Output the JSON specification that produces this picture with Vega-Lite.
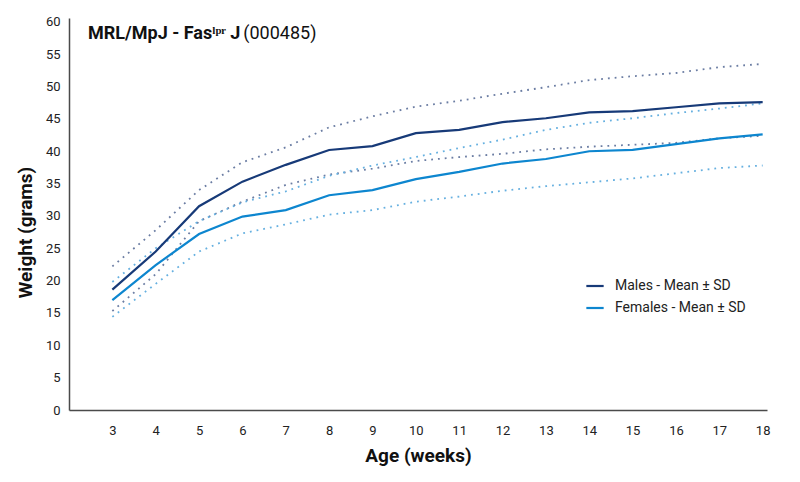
{
  "$schema": "https://vega.github.io/schema/vega-lite/v6.json",
  "width": 698,
  "height": 392,
  "autosize": {"type": "none"},
  "padding": {"left": 69, "top": 18, "right": 33, "bottom": 72},
  "config": {
    "view": {"stroke": null},
    "font": "Roboto",
    "axis": {
      "grid": false,
      "ticks": false,
      "labelOverlap": false,
      "domainColor": "#4a4a4a",
      "domainWidth": 1.5,
      "labelColor": "#222222",
      "labelFontSize": 13,
      "titleColor": "#111111",
      "titleFontSize": 19,
      "titleFontWeight": "bold"
    },
    "axisX": {"labelPadding": 14, "titlePadding": 9},
    "axisY": {"labelPadding": 9, "titlePadding": 10, "titleY": 214}
  },
  "data": {
    "values": [
      {"week": 3, "sex": "Males", "mean": 18.6, "upper": 22.2, "lower": 15.3},
      {"week": 4, "sex": "Males", "mean": 24.5, "upper": 27.8, "lower": 21.0},
      {"week": 5, "sex": "Males", "mean": 31.5, "upper": 34.0, "lower": 29.2},
      {"week": 6, "sex": "Males", "mean": 35.3, "upper": 38.3, "lower": 32.2},
      {"week": 7, "sex": "Males", "mean": 37.9, "upper": 40.6, "lower": 34.8},
      {"week": 8, "sex": "Males", "mean": 40.2, "upper": 43.7, "lower": 36.4},
      {"week": 9, "sex": "Males", "mean": 40.8, "upper": 45.4, "lower": 37.3},
      {"week": 10, "sex": "Males", "mean": 42.8, "upper": 46.9, "lower": 38.5},
      {"week": 11, "sex": "Males", "mean": 43.3, "upper": 47.8, "lower": 39.1},
      {"week": 12, "sex": "Males", "mean": 44.5, "upper": 48.9, "lower": 39.6},
      {"week": 13, "sex": "Males", "mean": 45.1, "upper": 49.9, "lower": 40.3},
      {"week": 14, "sex": "Males", "mean": 46.0, "upper": 51.0, "lower": 40.7},
      {"week": 15, "sex": "Males", "mean": 46.2, "upper": 51.6, "lower": 41.0},
      {"week": 16, "sex": "Males", "mean": 46.8, "upper": 52.1, "lower": 41.3},
      {"week": 17, "sex": "Males", "mean": 47.4, "upper": 53.0, "lower": 42.0},
      {"week": 18, "sex": "Males", "mean": 47.6, "upper": 53.5, "lower": 42.4},
      {"week": 3, "sex": "Females", "mean": 17.0, "upper": 19.8, "lower": 14.4},
      {"week": 4, "sex": "Females", "mean": 22.4, "upper": 25.0, "lower": 19.5},
      {"week": 5, "sex": "Females", "mean": 27.2, "upper": 29.2, "lower": 24.5},
      {"week": 6, "sex": "Females", "mean": 29.9, "upper": 32.1, "lower": 27.3},
      {"week": 7, "sex": "Females", "mean": 30.9, "upper": 33.8, "lower": 28.7},
      {"week": 8, "sex": "Females", "mean": 33.2, "upper": 36.2, "lower": 30.2},
      {"week": 9, "sex": "Females", "mean": 34.0, "upper": 37.8, "lower": 30.9},
      {"week": 10, "sex": "Females", "mean": 35.7, "upper": 39.1, "lower": 32.2},
      {"week": 11, "sex": "Females", "mean": 36.8, "upper": 40.5, "lower": 33.0},
      {"week": 12, "sex": "Females", "mean": 38.1, "upper": 41.8, "lower": 33.9},
      {"week": 13, "sex": "Females", "mean": 38.8, "upper": 43.3, "lower": 34.6},
      {"week": 14, "sex": "Females", "mean": 40.0, "upper": 44.4, "lower": 35.2},
      {"week": 15, "sex": "Females", "mean": 40.2, "upper": 45.1, "lower": 35.8},
      {"week": 16, "sex": "Females", "mean": 41.1, "upper": 45.9, "lower": 36.6},
      {"week": 17, "sex": "Females", "mean": 42.0, "upper": 46.6, "lower": 37.4},
      {"week": 18, "sex": "Females", "mean": 42.6, "upper": 47.4, "lower": 37.8}
    ]
  },
  "layer": [
    {
      "transform": [{"fold": ["upper", "lower"], "as": ["bound", "value"]}],
      "mark": {"type": "line", "strokeWidth": 1.8, "strokeDash": [1.8, 5], "strokeCap": "butt"},
      "encoding": {
        "x": {
          "field": "week", "type": "quantitative",
          "scale": {"domain": [2, 18.1], "nice": false, "zero": false},
          "axis": {"title": "Age (weeks)", "values": [3, 4, 5, 6, 7, 8, 9, 10, 11, 12, 13, 14, 15, 16, 17, 18]}
        },
        "y": {
          "field": "value", "type": "quantitative",
          "scale": {"domain": [0, 60.6], "nice": false},
          "axis": {"title": "Weight (grams)", "values": [0, 5, 10, 15, 20, 25, 30, 35, 40, 45, 50, 55, 60]}
        },
        "detail": {"field": "bound"},
        "color": {
          "field": "sex", "type": "nominal", "legend": null,
          "scale": {"domain": ["Males", "Females"], "range": ["#6b7da3", "#66b0e0"]}
        }
      }
    },
    {
      "mark": {"type": "line", "strokeWidth": 2.2},
      "encoding": {
        "x": {"field": "week", "type": "quantitative", "axis": {"title": "Age (weeks)", "values": [3, 4, 5, 6, 7, 8, 9, 10, 11, 12, 13, 14, 15, 16, 17, 18]}},
        "y": {"field": "mean", "type": "quantitative", "axis": {"title": "Weight (grams)", "values": [0, 5, 10, 15, 20, 25, 30, 35, 40, 45, 50, 55, 60]}},
        "color": {
          "field": "sex", "type": "nominal",
          "scale": {"domain": ["Males", "Females"], "range": ["#173a78", "#0d86cf"]},
          "legend": {
            "title": null,
            "orient": "none",
            "legendX": 516,
            "legendY": 258,
            "symbolType": "stroke",
            "symbolSize": 300,
            "symbolStrokeWidth": 2.2,
            "labelFontSize": 14,
            "labelColor": "#222222",
            "labelOffset": 10,
            "rowPadding": 5,
            "labelExpr": "datum.label + ' - Mean ± SD'"
          }
        }
      }
    },
    {
      "data": {"values": [{}]},
      "mark": {"type": "text", "text": "MRL/MpJ - Fasˡᵖʳ J", "fontWeight": "bold", "fontSize": 18, "align": "left", "baseline": "alphabetic", "color": "#111111"},
      "encoding": {
        "x": {"datum": 2.44, "type": "quantitative", "axis": {"title": "Age (weeks)", "values": [3, 4, 5, 6, 7, 8, 9, 10, 11, 12, 13, 14, 15, 16, 17, 18]}},
        "y": {"datum": 57.4, "type": "quantitative", "axis": {"title": "Weight (grams)", "values": [0, 5, 10, 15, 20, 25, 30, 35, 40, 45, 50, 55, 60]}}
      }
    },
    {
      "data": {"values": [{}]},
      "mark": {"type": "text", "text": "(000485)", "fontSize": 18, "align": "left", "baseline": "alphabetic", "color": "#111111"},
      "encoding": {
        "x": {"datum": 6.02, "type": "quantitative", "axis": {"title": "Age (weeks)", "values": [3, 4, 5, 6, 7, 8, 9, 10, 11, 12, 13, 14, 15, 16, 17, 18]}},
        "y": {"datum": 57.4, "type": "quantitative", "axis": {"title": "Weight (grams)", "values": [0, 5, 10, 15, 20, 25, 30, 35, 40, 45, 50, 55, 60]}}
      }
    }
  ],
  "resolve": {"scale": {"color": "independent"}}
}
